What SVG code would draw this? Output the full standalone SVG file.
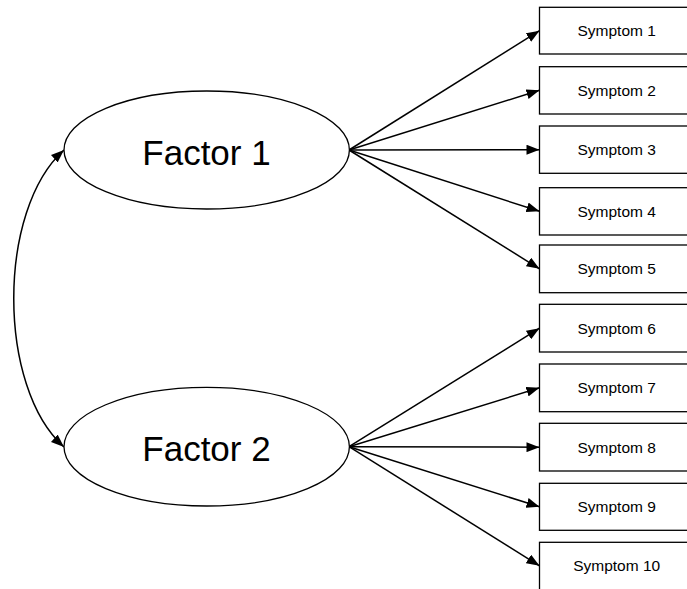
<svg xmlns="http://www.w3.org/2000/svg" width="687" height="589" viewBox="0 0 687 589">
<style>
.node{fill:#fff;stroke:#000;stroke-width:1.3}
.edge{fill:none;stroke:#000;stroke-width:1.5;marker-end:url(#ah)}
.fl{font-family:"Liberation Sans",Arial,sans-serif;font-size:35px;text-anchor:middle;fill:#000}
.sl{font-family:"Liberation Sans",Arial,sans-serif;font-size:15.5px;text-anchor:middle;fill:#000}
</style>
<defs>
<marker id="ah" markerUnits="userSpaceOnUse" markerWidth="14" markerHeight="10" refX="13" refY="5" orient="auto">
<path d="M0,0 L13,5 L0,10 Z" fill="#000"/>
</marker>
<marker id="as" markerUnits="userSpaceOnUse" markerWidth="14" markerHeight="10" refX="13" refY="5" orient="auto-start-reverse">
<path d="M0,0 L13,5 L0,10 Z" fill="#000"/>
</marker>
</defs>
<rect width="687" height="589" fill="#fff"/>
<g id="connectors">
<path class="edge" d="M349,150 L539.5,30.7"/>
<path class="edge" d="M349,150 L539.5,90.3"/>
<path class="edge" d="M349,150 L539.5,149.7"/>
<path class="edge" d="M349,150 L539.5,211.3"/>
<path class="edge" d="M349,150 L539.5,268.8"/>
<path class="edge" d="M349,446.7 L539.5,328.2"/>
<path class="edge" d="M349,446.7 L539.5,387.8"/>
<path class="edge" d="M349,446.7 L539.5,447.2"/>
<path class="edge" d="M349,446.7 L539.5,506.8"/>
<path class="edge" d="M349,446.7 L539.5,565.8"/>
<path d="M64,150 C-3,210 -3,387 64,447" fill="none" stroke="#000" stroke-width="1.5" marker-start="url(#as)" marker-end="url(#as)"/>
</g>
<g id="factor1"><ellipse class="node" cx="206.7" cy="150" rx="142.7" ry="59"/><text class="fl" x="206.5" y="165">Factor 1</text></g>
<g id="factor2"><ellipse class="node" cx="206.7" cy="446.7" rx="142.7" ry="59.3"/><text class="fl" x="206.5" y="461">Factor 2</text></g>
<g id="s1"><rect class="node" x="539.5" y="7.3" width="155" height="46.7"/><text class="sl" x="616.7" y="36.3">Symptom 1</text></g>
<g id="s2"><rect class="node" x="539.5" y="66.7" width="155" height="47.3"/><text class="sl" x="616.7" y="95.9">Symptom 2</text></g>
<g id="s3"><rect class="node" x="539.5" y="126" width="155" height="47.3"/><text class="sl" x="616.7" y="155.3">Symptom 3</text></g>
<g id="s4"><rect class="node" x="539.5" y="187.7" width="155" height="47.3"/><text class="sl" x="616.7" y="216.9">Symptom 4</text></g>
<g id="s5"><rect class="node" x="539.5" y="245" width="155" height="47.7"/><text class="sl" x="616.7" y="274.4">Symptom 5</text></g>
<g id="s6"><rect class="node" x="539.5" y="304.3" width="155" height="47.7"/><text class="sl" x="616.7" y="333.8">Symptom 6</text></g>
<g id="s7"><rect class="node" x="539.5" y="364" width="155" height="47.7"/><text class="sl" x="616.7" y="393.4">Symptom 7</text></g>
<g id="s8"><rect class="node" x="539.5" y="423.3" width="155" height="47.7"/><text class="sl" x="616.7" y="452.8">Symptom 8</text></g>
<g id="s9"><rect class="node" x="539.5" y="483.3" width="155" height="47"/><text class="sl" x="616.7" y="512.4">Symptom 9</text></g>
<g id="s10"><rect class="node" x="539.5" y="542.3" width="155" height="50"/><text class="sl" x="616.7" y="571.4">Symptom 10</text></g>
</svg>
